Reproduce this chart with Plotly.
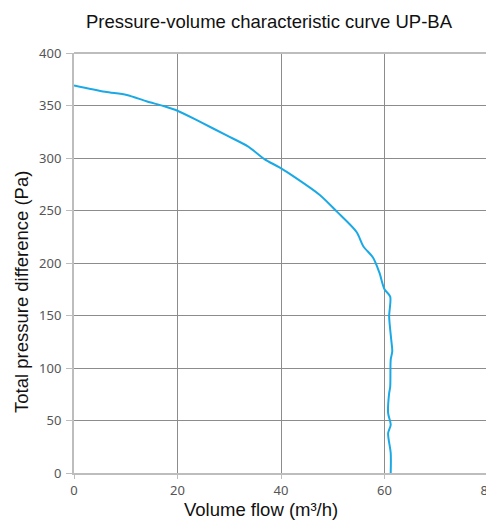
import plotly.graph_objects as go

flow = [0, 6, 10.2, 14, 17.3, 20, 24.3, 29.5, 33.6, 36.8, 39.7, 43, 47.5, 50.8, 54.6, 55.9, 57.8, 59.0, 60.0, 61.1,
        60.9, 61.3, 61.5, 61.2, 61.1, 60.9, 60.7, 61.2, 60.7, 61.2, 61.2]
pressure = [369, 363, 360, 354, 349.5, 345, 334.6, 321.5, 311, 299, 291, 280.6, 264.8, 248.9, 229.5, 216, 205, 191, 175, 168,
            149, 127, 116, 108, 82, 76, 57, 46, 38, 19, 0]

fig = go.Figure()
fig.add_trace(go.Scatter(x=flow, y=pressure, mode="lines",
                         line=dict(color="#1ba9e6", width=2, shape="spline", smoothing=0.8),
                         showlegend=False, hoverinfo="skip"))

axis_common = dict(showgrid=True, gridcolor="#8c8c8c", gridwidth=1,
                   showline=True, linecolor="#bdbdbd", linewidth=2,
                   ticks="outside", tickcolor="#bdbdbd", tickwidth=1,
                   zeroline=False, mirror=False,
                   tickfont=dict(family="Noto Sans", size=13, color="#555555"))

# page body has an 8px margin; compensate so the plot area lands at 74..488 x 53..473
fig.update_layout(
    width=494, height=512,
    margin=dict(l=66, r=14, t=45, b=47, autoexpand=False),
    plot_bgcolor="white", paper_bgcolor="white",
    xaxis=dict(range=[0, 80], dtick=20, ticklen=4, **axis_common),
    yaxis=dict(range=[0, 400], dtick=50, ticklen=6, **axis_common),
)
fig.update_xaxes(ticklabelstandoff=0)
fig.update_yaxes(ticklabelstandoff=2)

fig.add_shape(type="line", xref="paper", yref="paper", x0=0, x1=1, y0=1, y1=1,
              line=dict(color="#bdbdbd", width=2))
fig.add_shape(type="line", xref="paper", yref="paper", x0=1, x1=1, y0=0, y1=1,
              line=dict(color="#bdbdbd", width=2))

fig.add_annotation(text="Pressure-volume characteristic curve UP-BA", xref="paper", yref="paper",
                   x=(269.5 - 74) / 414, y=(473 - 21) / 420, showarrow=False,
                   xanchor="center", yanchor="middle",
                   font=dict(family="Liberation Sans", size=18.5, color="#111111"))
fig.add_annotation(text="Volume flow (m³/h)", xref="paper", yref="paper",
                   x=(261 - 74) / 414, y=(473 - 510) / 420, showarrow=False,
                   xanchor="center", yanchor="middle",
                   font=dict(family="Liberation Sans", size=18.5, color="#111111"))
fig.add_annotation(text="Total pressure difference (Pa)", xref="paper", yref="paper",
                   x=(21 - 74) / 414, y=(473 - 292) / 420, showarrow=False, textangle=-90,
                   xanchor="center", yanchor="middle",
                   font=dict(family="Liberation Sans", size=18.5, color="#111111"))

fig.write_html("out.html")
